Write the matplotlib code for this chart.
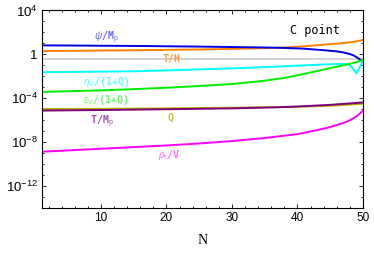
import numpy as np
import matplotlib
matplotlib.use("Agg")
import matplotlib.pyplot as plt
from matplotlib.ticker import FixedLocator, FixedFormatter

plt.rcParams['mathtext.fontset'] = 'custom'
plt.rcParams['mathtext.rm'] = 'Liberation Sans'
plt.rcParams['mathtext.it'] = 'Liberation Sans:italic'
plt.rcParams['mathtext.bf'] = 'Liberation Sans:bold'

# values, stored as log10 of the quantity
N_psi = [1, 5, 10, 15, 20, 25, 30, 35, 38, 41, 44, 46, 47, 48, 48.5, 49, 49.5, 50]
log_psi = [0.82, 0.81, 0.79, 0.77, 0.74, 0.71, 0.67, 0.63, 0.59, 0.52, 0.38, 0.27,
           0.18, 0.03, -0.08, -0.25, -0.45, -0.62]

N_TH = [1, 5, 10, 15, 20, 25, 30, 35, 38, 41, 44, 46, 47, 48, 49, 50]
log_TH = [0.30, 0.32, 0.35, 0.38, 0.41, 0.45, 0.50, 0.57, 0.63, 0.74, 0.88, 0.98,
          1.03, 1.10, 1.19, 1.31]

N_eta = [1, 5, 10, 15, 20, 25, 30, 35, 38, 41, 44, 46, 47.5, 48, 48.5, 49, 49.5, 50]
log_eta = [-1.62, -1.60, -1.57, -1.54, -1.46, -1.37, -1.27, -1.16, -1.08, -1.00,
           -0.92, -0.88, -0.87, -0.98, -1.35, -1.72, -1.15, -0.55]

N_eps = [1, 5, 10, 15, 20, 25, 30, 35, 38, 41, 44, 46, 47, 48, 49, 50]
log_eps = [-3.42, -3.36, -3.28, -3.17, -3.04, -2.88, -2.70, -2.40, -2.14, -1.78,
           -1.38, -1.12, -1.00, -0.85, -0.70, -0.50]

N_slow = [1, 10, 20, 30, 37, 40, 45, 50]
log_Q = [-4.98, -4.96, -4.92, -4.86, -4.80, -4.78, -4.68, -4.50]
log_TMp = [-5.12, -5.07, -5.00, -4.92, -4.82, -4.75, -4.60, -4.38]

N_rho = [1, 5, 10, 15, 20, 25, 30, 35, 40, 43, 45, 47, 48, 49, 50]
log_rho = [-8.87, -8.75, -8.60, -8.45, -8.30, -8.12, -7.90, -7.62, -7.27, -6.90,
           -6.62, -6.25, -6.00, -5.65, -5.15]

log_ref = -0.46  # light gray reference level

x_ticks = [10, 20, 30, 40, 50]
y_ticks = [1e-12, 1e-8, 1e-4, 1, 1e4]
y_tick_labels = ['$10^{-12}$', '$10^{-8}$', '$10^{-4}$', '1', '$10^{4}$']


def pw(v):
    return 10.0 ** np.array(v)


fig = plt.figure(figsize=(3.74, 2.56), dpi=100)
ax = fig.add_axes([0.1123, 0.1875, 0.8583, 0.7715])

lw = 1.4
ax.axhline(10 ** log_ref, color='#d4d4d4', lw=lw)
ax.plot(N_TH, pw(log_TH), color='#ff8000', lw=lw)
ax.plot(N_psi, pw(log_psi), color='#0000e6', lw=lw)
ax.plot(N_eta, pw(log_eta), color='#00ffff', lw=lw)
ax.plot(N_eps, pw(log_eps), color='#00ee00', lw=lw)
ax.plot(N_slow, pw(log_Q), color='#b4b400', lw=lw)
ax.plot(N_slow, pw(log_TMp), color='#800080', lw=lw)
ax.plot(N_rho, pw(log_rho), color='#ff00ff', lw=lw)

ax.set_yscale('log')
ax.set_xlim(1, 50)
ax.set_ylim(1e-14, 1e4)

ax.xaxis.set_major_locator(FixedLocator(x_ticks))
ax.xaxis.set_minor_locator(FixedLocator([n for n in range(2, 50, 2) if n % 10]))
ax.yaxis.set_major_locator(FixedLocator(y_ticks))
ax.yaxis.set_major_formatter(FixedFormatter(y_tick_labels))
ax.yaxis.set_minor_locator(FixedLocator([10.0 ** k for k in range(-14, 5) if k % 4]))
ax.yaxis.set_minor_formatter(FixedFormatter([]))

ax.tick_params(which='both', direction='in', top=True, right=True, width=0.6)
ax.tick_params(which='major', length=3)
ax.tick_params(which='minor', length=1.6)
ax.tick_params(axis='x', labelsize=8.5, pad=3)
ax.tick_params(axis='y', labelsize=9.5, pad=3)
for lab in ax.get_xticklabels() + ax.get_yticklabels():
    lab.set_fontfamily('Liberation Sans')
for sp in ax.spines.values():
    sp.set_linewidth(0.8)

ax.set_xlabel('N', family='Liberation Serif', fontsize=10, labelpad=7)

mono = 'DejaVu Sans Mono'
fs = 7.2
kw = dict(family=mono, fontsize=fs, fontweight='bold', ha='center', va='center')
ax.text(10.8, 10 ** 1.47, r'$\psi$/M$_{\rm p}$', color='#6a6aff', **kw)
ax.text(20.8, 10 ** -0.46, 'T/H', color='#ff9a40', **kw)
ax.text(10.8, 10 ** -2.48, r'$\eta_{\rm V}$/(1+Q)', color='#66ffff', **kw)
ax.text(10.8, 10 ** -4.13, r'$\epsilon_{\rm V}$/(1+Q)', color='#66ff66', **kw)
ax.text(10.2, 10 ** -6.15, r'T/M$_{\rm p}$', color='#a050a8', **kw)
ax.text(20.6, 10 ** -5.78, 'Q', color='#c0c040', **kw)
ax.text(20.4, 10 ** -9.17, r'$\rho_{\rm r}$/V', color='#ff70ff', **kw)
ax.text(42.6, 10 ** 2.2, 'C point', color='black', family=mono,
        fontsize=8.5, ha='center', va='center')

fig.savefig('out.png', dpi=100)
